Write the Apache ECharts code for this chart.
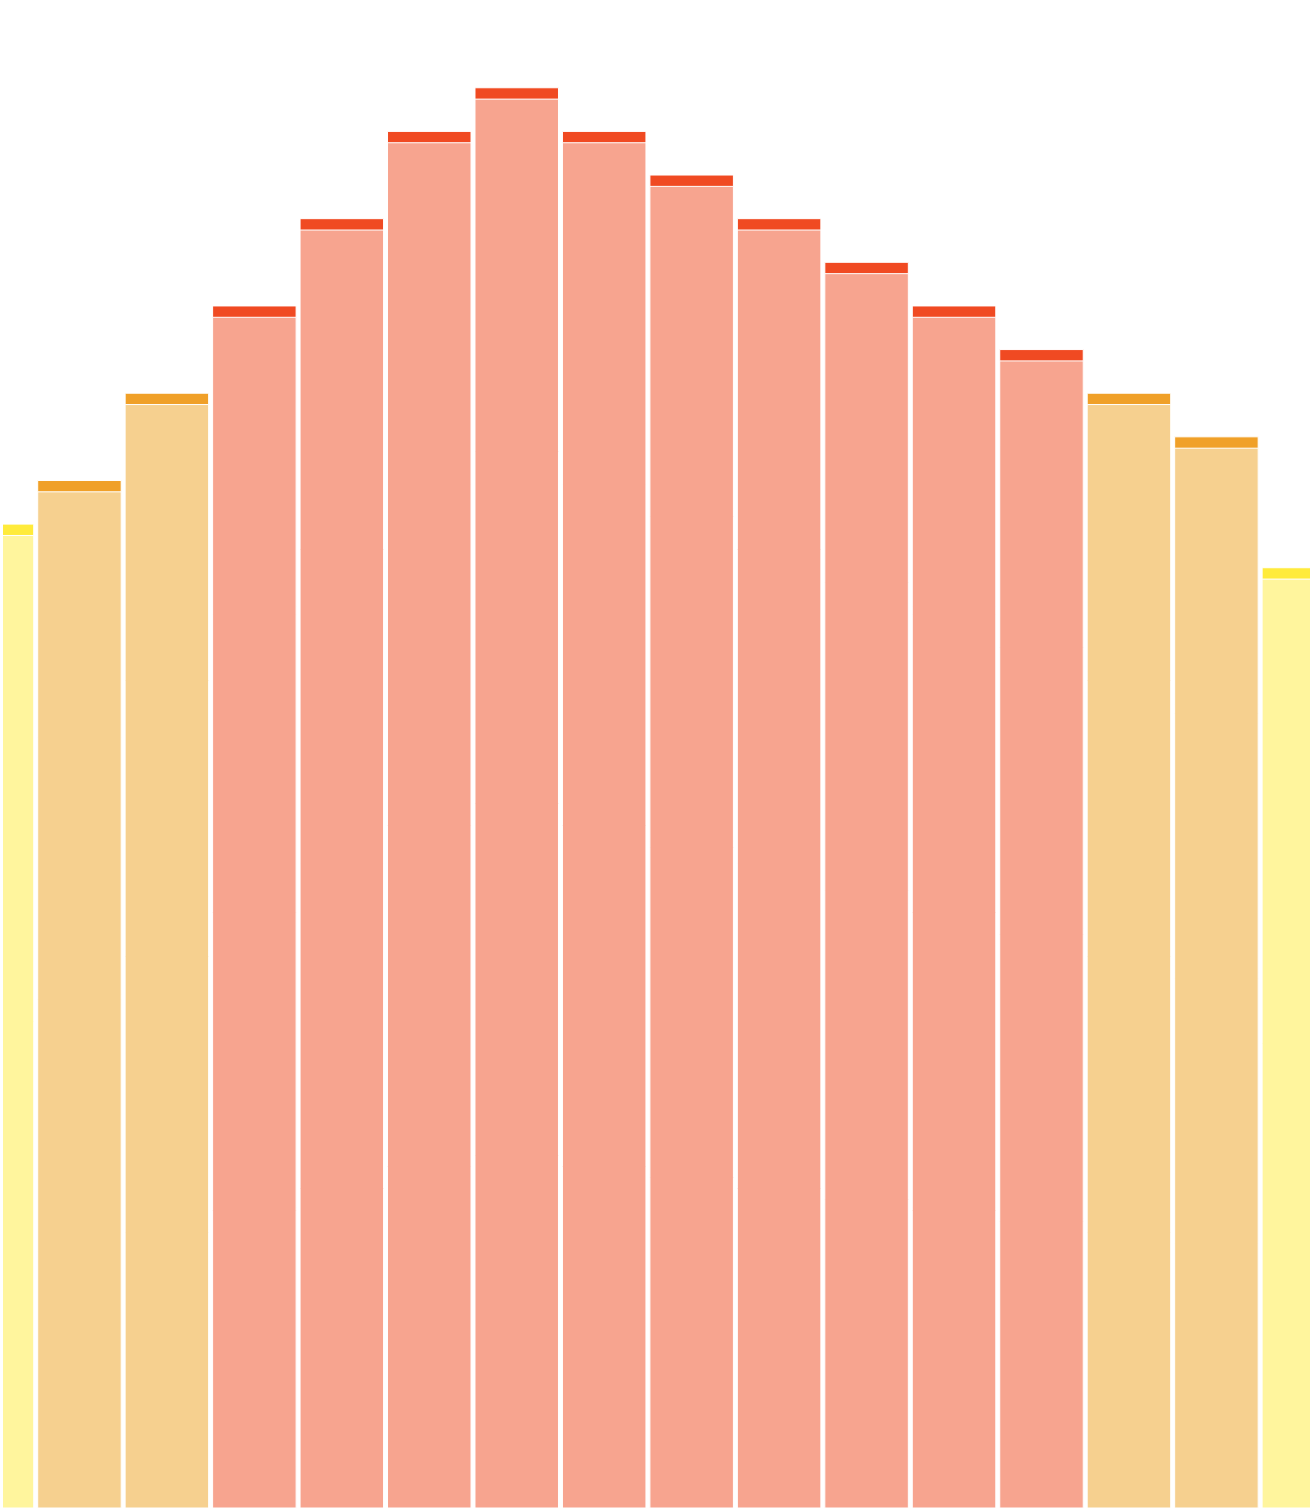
<!DOCTYPE html>
<html>
<head>
<meta charset="utf-8">
<script src="https://cdn.jsdelivr.net/npm/echarts@6/dist/echarts.min.js"></script>
<style>
  html, body { margin: 0; padding: 0; background: #ffffff; }
  /* the first and last bars are cut by the chart's own edges */
  #main { width: 1307px; height: 1508px; margin-left: 3px; }
</style>
</head>
<body>
<div id="main"></div>
<script>
var slots = [0, 1, 2, 3, 4, 5, 6, 7, 8, 9, 10, 11, 12, 13, 14, 15];
// top of each whole bar (dark cap included)
var tops = [23, 24, 26, 28, 30, 32, 33, 32, 31, 30, 29, 28, 27, 26, 25, 22];
// top of the light part of each bar
var bodies = [22.74, 23.74, 25.74, 27.74, 29.74, 31.74, 32.74, 31.74, 30.74, 29.74, 28.74, 27.74, 26.74, 25.74, 24.74, 21.74];

var chart = echarts.init(document.getElementById('main'), null, { renderer: 'canvas' });

function capColor(v) {
  if (v <= 23.5) return '#FFEB3B';
  if (v <= 26.5) return '#F0A028';
  return '#F04A22';
}
function bodyColor(v) {
  if (v <= 23.5) return '#FFF59D';
  if (v <= 26.5) return '#F6D08F';
  return '#F7A48F';
}

var capData = [], bodyData = [];
for (var i = 0; i < slots.length; i++) {
  capData.push({ value: [slots[i], tops[i]], itemStyle: { color: capColor(tops[i]) } });
  bodyData.push({ value: [slots[i], bodies[i]], itemStyle: { color: bodyColor(tops[i]) } });
}

var option = {
  backgroundColor: '#ffffff',
  animation: false,
  grid: { left: 0, right: 0, top: 0, bottom: 0, containLabel: false },
  xAxis: {
    type: 'value',
    min: 0.126,
    max: 15.07,
    show: false
  },
  yAxis: {
    type: 'value',
    min: 0.44,
    max: 35,
    show: false
  },
  series: [{
    name: 'cap',
    type: 'bar',
    barWidth: 84.5,
    barGap: '-100%',
    itemStyle: { borderColor: '#ffffff', borderWidth: 1 },
    data: capData
  }, {
    name: 'body',
    type: 'bar',
    barWidth: 84.5,
    barGap: '-100%',
    itemStyle: { borderColor: '#ffffff', borderWidth: 1 },
    data: bodyData
  }]
};
chart.setOption(option);
</script>
</body>
</html>
